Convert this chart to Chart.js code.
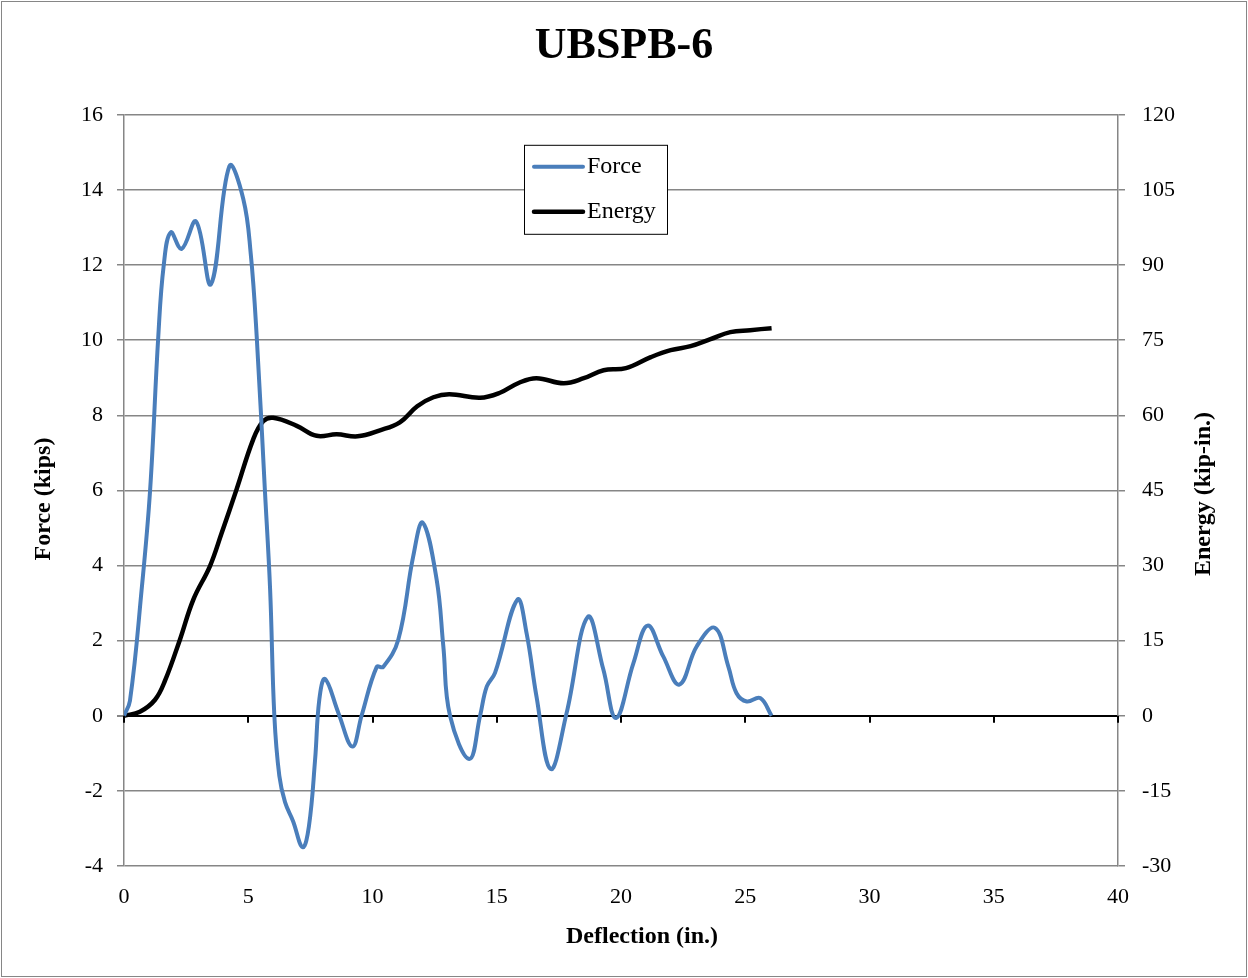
<!DOCTYPE html>
<html>
<head>
<meta charset="utf-8">
<script src="https://cdn.jsdelivr.net/npm/chart.js@4.4.1/dist/chart.umd.min.js"></script>
<style>
  body { margin: 0; background: #fff; }
  #wrap { width: 1248px; height: 978px; position: relative; }
</style>
</head>
<body>
<div id="wrap"><canvas id="chart" width="1248" height="978"></canvas></div>
<script>
// values
const forceDefl = [0, 0.24, 0.71, 1.05, 1.38, 1.6, 1.88, 2.32, 2.9, 3.5, 4.24, 4.8, 5.1, 5.34, 5.67, 5.88, 6.05, 6.25, 6.48, 6.8, 7.19, 7.44, 7.69, 7.86, 8.09, 8.63, 9.19, 9.56, 10.17, 10.43, 11.04, 11.64, 12.02, 12.58, 12.85, 13.12, 13.9, 14.33, 14.6, 14.93, 15.83, 16.2, 16.6, 17.17, 17.81, 18.66, 19.29, 19.8, 20.5, 21.07, 21.7, 22.35, 23.05, 23.78, 24.32, 24.65, 25.06, 25.6, 26.06];
const force = [0, 0.4, 3.36, 6.0, 10.1, 12.0, 12.87, 12.43, 13.16, 11.49, 14.63, 13.76, 12.3, 10.1, 6.0, 3.36, 0, -1.6, -2.3, -2.8, -3.5, -2.95, -1.17, 0.43, 0.98, 0.07, -0.82, 0, 1.3, 1.3, 2.03, 4.25, 5.14, 3.63, 1.85, 0, -1.15, 0, 0.78, 1.14, 3.09, 2.2, 0.51, -1.42, 0.07, 2.63, 1.23, -0.06, 1.4, 2.4, 1.58, 0.83, 1.85, 2.34, 1.31, 0.6, 0.38, 0.47, 0];

const energyDefl = [0, 0.64, 1.25, 1.65, 2.25, 2.79, 3.46, 3.93, 4.53, 5.2, 5.6, 6.0, 6.95, 7.75, 8.56, 9.4, 10.3, 11.1, 11.8, 12.45, 13.1, 14.33, 15.13, 15.9, 16.6, 17.7, 18.5, 19.3, 20.2, 21.2, 22.0, 22.8, 23.6, 24.4, 25.2, 26.06];
const energy = [0, 0.8, 3.2, 7.0, 15.2, 23.2, 29.9, 36.5, 45.2, 55.2, 58.8, 59.5, 57.9, 55.9, 56.2, 55.8, 57.0, 58.6, 61.8, 63.6, 64.2, 63.5, 64.5, 66.5, 67.4, 66.4, 67.4, 69.0, 69.4, 71.6, 73.0, 73.8, 75.2, 76.6, 77.0, 77.4];

const xTicks = [0, 5, 10, 15, 20, 25, 30, 35, 40];
const forceTicks = [-4, -2, 0, 2, 4, 6, 8, 10, 12, 14, 16];
const energyTicks = [-30, -15, 0, 15, 30, 45, 60, 75, 90, 105, 120];

const gridGray = "#868686";
const serif = "'Liberation Serif', 'DejaVu Serif', serif";

function toPoints(xs, ys) {
  return xs.map((x, i) => ({ x: x, y: ys[i] }));
}

function drawText(ctx, text, x, y, rot) {
  ctx.save();
  ctx.translate(x, y);
  if (rot) ctx.rotate(rot);
  ctx.fillText(text, 0, 0);
  ctx.restore();
}

// frame, x tick marks on the zero line, axis titles, legend box
const extras = {
  id: "extras",
  beforeDraw(chart) {
    const ctx = chart.ctx;
    ctx.save();
    ctx.fillStyle = "#fff";
    ctx.fillRect(0, 0, chart.width, chart.height);
    ctx.restore();
  },
  afterDatasetsDraw(chart) {
    const ctx = chart.ctx;
    const xs = chart.scales.x;
    const y0 = chart.scales.y.getPixelForValue(0);
    ctx.save();
    ctx.strokeStyle = "#000";
    ctx.lineWidth = 2;
    xTicks.forEach(v => {
      const px = Math.round(xs.getPixelForValue(v));
      ctx.beginPath();
      ctx.moveTo(px, y0);
      ctx.lineTo(px, y0 + 7);
      ctx.stroke();
    });
    ctx.restore();
  },
  afterDraw(chart) {
    const ctx = chart.ctx;
    const area = chart.chartArea;
    ctx.save();
    ctx.strokeStyle = gridGray;
    ctx.lineWidth = 1;
    ctx.strokeRect(1.5, 1.5, chart.width - 3, chart.height - 3);

    // axis titles
    ctx.fillStyle = "#000";
    ctx.font = "bold 24px " + serif;
    ctx.textAlign = "center";
    ctx.textBaseline = "middle";
    drawText(ctx, "Deflection (in.)", 642, 937, 0);
    drawText(ctx, "Force (kips)", 44, 499, -Math.PI / 2);
    drawText(ctx, "Energy (kip-in.)", 1204, 494, -Math.PI / 2);
    ctx.restore();

    // legend
    ctx.save();
    const lx = area.left + 400, ly = area.top + 30;
    ctx.fillStyle = "#fff";
    ctx.fillRect(lx, ly, 143, 89);
    ctx.strokeStyle = "#000";
    ctx.lineWidth = 1;
    ctx.strokeRect(lx + 0.5, ly + 0.5, 143, 89);
    ctx.font = "24px " + serif;
    ctx.textBaseline = "middle";
    ctx.textAlign = "left";
    chart.data.datasets.forEach((ds, i) => {
      const yy = ly + 22 + i * 45;
      ctx.strokeStyle = ds.borderColor;
      ctx.lineWidth = ds.borderWidth;
      ctx.lineCap = "round";
      ctx.beginPath();
      ctx.moveTo(lx + 10, yy);
      ctx.lineTo(lx + 59, yy);
      ctx.stroke();
      ctx.fillStyle = "#000";
      ctx.fillText(ds.label, lx + 63, yy);
    });
    ctx.restore();
  }
};

new Chart(document.getElementById("chart"), {
  type: "line",
  data: {
    datasets: [
      {
        label: "Force",
        data: toPoints(forceDefl, force),
        borderColor: "#4A7EBB",
        borderWidth: 4,
        pointRadius: 0,
        tension: 0.4,
        fill: false,
        yAxisID: "y"
      },
      {
        label: "Energy",
        data: toPoints(energyDefl, energy),
        borderColor: "#000000",
        borderWidth: 4.5,
        pointRadius: 0,
        tension: 0.4,
        fill: false,
        yAxisID: "y1"
      }
    ]
  },
  options: {
    responsive: false,
    animation: false,
    layout: { padding: 0 },
    plugins: {
      legend: { display: false },
      tooltip: { enabled: false },
      title: {
        display: true,
        text: "UBSPB-6",
        color: "#000",
        font: { family: serif, size: 44, weight: "bold" },
        padding: { top: 20, bottom: 42 }
      }
    },
    scales: {
      x: {
        type: "linear",
        min: 0,
        max: 40,
        afterBuildTicks: s => { s.ticks = xTicks.map(v => ({ value: v })); },
        afterFit: s => { s.height = 112; },
        grid: { display: false, drawTicks: false },
        border: { display: false },
        ticks: { color: "#000", padding: 18, font: { family: serif, size: 22 } }
      },
      y: {
        position: "left",
        min: -4,
        max: 16,
        afterBuildTicks: s => { s.ticks = forceTicks.map(v => ({ value: v })); },
        afterFit: s => { s.width = 124; },
        grid: {
          color: c => (c.tick && c.tick.value === 0 ? "#000" : gridGray),
          lineWidth: c => (c.tick && c.tick.value === 0 ? 2 : 1.5),
          tickColor: gridGray,
          tickLength: 7
        },
        border: { color: gridGray, width: 1.5 },
        ticks: { color: "#000", padding: 14, font: { family: serif, size: 22 } }
      },
      y1: {
        position: "right",
        min: -30,
        max: 120,
        afterBuildTicks: s => { s.ticks = energyTicks.map(v => ({ value: v })); },
        afterFit: s => { s.width = 130; },
        grid: { drawOnChartArea: false, color: gridGray, tickLength: 7, lineWidth: 1.5 },
        border: { color: gridGray, width: 1.5 },
        ticks: { color: "#000", padding: 17, font: { family: serif, size: 22 } }
      }
    }
  },
  plugins: [extras]
});
</script>
</body>
</html>
